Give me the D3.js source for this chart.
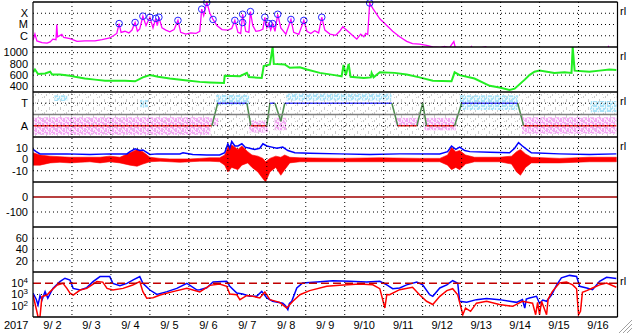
<!DOCTYPE html>
<html>
<head>
<meta charset="utf-8">
<script src="https://d3js.org/d3.v7.min.js"></script>
<style>
    body { margin: 0; background: #fff; }
    text { font-family: "Liberation Sans", Arial, sans-serif; font-size: 11px; fill: #000; }
</style>
</head>
<body>
<svg id="chart" width="633" height="334"></svg>
<script>

// ---------------- data (time = decimal day of September 2017, UT) ----------------
var dayStarts = [3, 4, 5, 6, 7, 8, 9, 10, 11, 12, 13, 14, 15, 16];
var dayLabels = ["9/ 2", "9/ 3", "9/ 4", "9/ 5", "9/ 6", "9/ 7", "9/ 8", "9/ 9", "9/10", "9/11", "9/12", "9/13", "9/14", "9/15", "9/16"];

// x-ray flux (W/m2)
var xray = [[2.00,4e-7],[2.05,1.4e-6],[2.10,3.5e-7],[2.23,2.5e-7],[2.36,2.2e-7],[2.44,2.8e-7],[2.51,5e-7],
    [2.59,4.5e-7],[2.61,1e-5],[2.63,8e-7],[2.74,1.3e-6],[2.79,7e-7],[2.95,5.6e-7],[3.13,3.2e-7],[3.33,3.5e-7],
    [3.59,3.5e-7],[3.77,4.5e-7],[3.97,6.3e-7],[4.08,1.1e-6],[4.15,1.6e-6],[4.21,1.2e-5],[4.26,2e-6],[4.36,2.5e-6],
    [4.46,1.8e-6],[4.54,3.2e-6],[4.62,1.5e-5],[4.68,2.5e-6],[4.74,4e-6],[4.82,5.5e-5],[4.90,8e-6],[5.00,4.4e-5],
    [5.08,5e-6],[5.15,3.5e-5],[5.19,8e-6],[5.23,4.4e-5],[5.31,5e-6],[5.41,3.2e-6],[5.51,2.2e-6],[5.62,3.5e-6],
    [5.72,2.3e-5],[5.79,2e-6],[5.92,1.4e-6],[6.05,1.8e-6],[6.18,1.6e-6],[6.28,2.5e-6],[6.33,2.3e-4],[6.38,6.3e-5],
    [6.46,9.3e-4],[6.54,1e-4],[6.62,2.8e-5],[6.72,8e-6],[6.85,3.5e-6],[7.00,3.2e-6],[7.10,4.5e-6],[7.18,2.3e-5],
    [7.26,2e-6],[7.33,1.6e-6],[7.38,8.1e-5],[7.46,2.5e-6],[7.54,2e-6],[7.58,1.4e-4],[7.64,8e-6],[7.72,2.5e-6],
    [7.82,2.8e-6],[7.90,4e-6],[7.95,4.4e-5],[8.00,5e-6],[8.05,1.2e-5],[8.10,3.2e-6],[8.15,1.2e-5],[8.21,2.5e-6],
    [8.28,8.1e-5],[8.36,5e-6],[8.49,1.4e-6],[8.62,2.8e-5],[8.69,2e-6],[8.82,1.3e-6],[8.95,2.3e-5],[9.03,2.5e-6],
    [9.13,1.6e-6],[9.23,2.8e-6],[9.33,1.8e-6],[9.41,4.4e-5],[9.49,3.2e-6],[9.62,1.4e-6],[9.77,1.1e-6],[9.87,2.5e-6],
    [9.95,6.3e-6],[10.08,2.5e-6],[10.21,1e-6],[10.31,5e-7],[10.41,1.4e-6],[10.49,8e-7],[10.54,1.6e-6],[10.59,1.3e-6],
    [10.64,8.2e-4],[10.72,2.7e-4],[10.90,3.2e-5],[11.08,8e-6],[11.23,2.5e-6],[11.36,1.1e-6],[11.41,8e-7],[11.59,3.2e-7],
    [11.74,2e-7],[11.92,1.8e-7],[12.10,1.4e-7],[12.26,1e-7],[12.44,9e-8],[12.56,1.1e-7],[12.69,9e-8],[12.80,3e-7],
    [12.84,8e-8],[13.21,6e-8],[13.25,1.1e-7],[13.30,6e-8],[13.62,1.05e-7],[13.66,6e-8],[16.70,5e-8],[16.77,1.1e-7],[16.82,5e-8]];

// flare peaks marked with circles
var flares = [[4.21,1.2e-5],[4.62,1.5e-5],[4.82,5.5e-5],[5.00,4.4e-5],[5.15,3.5e-5],[5.23,4.4e-5],[5.72,2.3e-5],
    [6.33,2.3e-4],[6.46,9.3e-4],[6.62,2.8e-5],[7.18,2.3e-5],[7.38,8.1e-5],[7.38,1.5e-5],[7.58,1.4e-4],[7.95,4.4e-5],
    [8.05,1.2e-5],[8.15,1.2e-5],[8.28,8.1e-5],[8.62,2.8e-5],[8.95,2.3e-5],[9.41,4.4e-5],[10.64,8.2e-4]];

// solar wind speed (km/s)
var speed = [[2.00,650],[2.05,700],[2.13,620],[2.31,630],[2.44,660],[2.49,610],[2.69,610],[2.95,590],[3.08,570],
    [3.33,540],[3.59,520],[3.85,500],[4.10,500],[4.36,500],[4.62,490],[4.82,560],[5.00,600],[5.21,570],[5.51,540],
    [5.90,510],[6.28,480],[6.54,470],[6.90,460],[6.92,590],[7.31,580],[7.49,640],[7.54,565],[7.87,550],[7.92,760],
    [8.08,790],[8.15,1100],[8.18,800],[8.46,790],[8.59,730],[8.85,740],[9.03,700],[9.36,640],[9.74,600],[9.92,580],
    [9.97,780],[10.03,600],[10.10,800],[10.15,570],[10.49,550],[10.67,560],[10.69,640],[10.74,560],[10.90,650],
    [11.28,640],[11.59,610],[11.92,560],[12.26,500],[12.74,490],[12.82,650],[12.95,600],[13.33,540],[13.72,410],
    [13.97,380],[14.23,335],[14.36,360],[14.62,520],[14.74,600],[14.87,660],[15.00,680],[15.38,640],[15.64,650],
    [15.82,640],[15.85,1100],[15.90,680],[16.28,660],[16.54,680],[16.79,700],[16.97,690]];

// IMF sector: +1 = T(oward), -1 = A(way)
var sector = [[2.00,-1],[6.59,-1],[6.74,1],[7.49,1],[7.59,-1],[8.00,-1],[8.08,1],[8.21,1],[8.36,-0.6],[8.46,1],
    [11.21,1],[11.36,-1],[11.85,-1],[12.00,1],[12.10,-1],[12.82,-1],[13.00,1],[14.44,1],[14.59,-1],[16.97,-1]];
// background point clouds [start, end, low, high]
var sectorAway = [[2.00,6.55,-1.8,-0.25],[6.55,6.75,-1.0,-0.3],[7.55,8.02,-1.6,-0.55],[8.20,8.50,-1.4,-0.3],
    [11.30,11.90,-1.0,-0.3],[12.05,12.85,-1.4,-0.3],[14.55,16.97,-1.7,-0.25]];
var sectorToward = [[2.55,2.90,1.2,1.7],[4.75,4.95,0.6,1.3],[6.70,7.55,0.84,1.75],[8.50,11.20,1.25,1.85],
    [12.95,14.45,0.4,1.7],[16.30,16.97,0.2,1.2]];
var sectorOther = [[2.00,16.97,-1.9,1.9]];

// IMF Bt (nT) and Bz range [t, min, max]
var bt = [[2.00,9],[2.08,7],[2.18,5],[2.87,5],[3.46,4.5],[3.97,5],[4.41,5],[4.49,7],[4.62,9.5],[4.74,8],[4.82,8.5],
    [5.00,4.5],[5.18,5],[5.77,5],[5.85,6],[6.10,4.5],[6.46,4],[6.79,4],[6.92,6],[7.00,14],[7.05,10],[7.10,16],
    [7.18,12],[7.26,12],[7.36,14],[7.44,11],[7.56,10],[7.69,9],[7.82,10],[7.90,14],[8.00,12],[8.13,11],[8.26,10],
    [8.41,11],[8.54,8],[8.72,6],[9.10,5.5],[9.87,5],[10.64,4.5],[11.41,5],[12.44,5],[12.64,7],[12.74,12],[12.85,9],
    [12.95,11],[13.08,8],[13.21,7],[13.72,6.5],[14.23,6],[14.36,10],[14.46,15],[14.56,12],[14.67,9],[14.79,6],
    [15.51,5],[16.28,4.5],[16.97,5]];
var bz = [[2.00,-5,6],[2.18,-5,4],[2.44,-3,3],[2.69,-2.5,2.5],[2.95,-3,2],[3.21,-2.5,2],[3.46,-2,2],[3.72,-3,2],
    [3.97,-2,3],[4.23,-3,2],[4.49,-5,6],[4.67,-6,9],[4.82,-4,7],[5.00,-2,2],[5.26,-1.5,1],[5.51,-2,0.5],
    [5.77,-2.5,0.5],[6.03,-2,0.5],[6.28,-1.5,1],[6.54,-1.5,1.5],[6.79,-2,1.5],[6.92,-5,4],[7.00,-11,11],
    [7.10,-7,13],[7.26,-9,9],[7.36,-5,12],[7.51,-3,7],[7.62,-7,4],[7.77,-11,3],[7.90,-17,1],[7.97,-20,-2],
    [8.08,-11,1],[8.23,-7,3],[8.36,-14,2],[8.46,-9,4],[8.59,-3,2],[8.85,-2,1.5],[9.87,-2,1],[10.90,-2,1.5],
    [11.92,-2,1],[12.44,-2,1],[12.64,-5,4],[12.74,-9,11],[12.85,-7,7],[12.95,-9,8],[13.10,-4,4],[13.33,-2,2],
    [13.97,-2,2],[14.28,-4,3],[14.41,-11,7],[14.51,-14,9],[14.64,-7,5],[14.79,-3,2],[15.51,-3,1],[16.28,-2,2],
    [16.97,-2,2]];

// Dst (nT): no data, zero line only
var dstLevel = 0;

// >2 MeV electron flux, two satellites
var elecBlue = [[2.00,1.3e3],[2.08,4e2],[2.13,1.2e2],[2.18,8e2],[2.23,3.2e2],[2.31,1.8e3],[2.38,4.6e2],[2.51,3.5e3],
    [2.69,1.4e4],[2.82,2.8e4],[2.95,1.9e4],[3.03,3.5e3],[3.21,2.5e3],[3.38,4.1e3],[3.54,1.4e4],[3.72,3.9e4],
    [3.97,3.9e4],[4.05,9.8e3],[4.23,6e3],[4.41,9.8e3],[4.56,1.9e4],[4.74,3.9e4],[4.82,9.8e3],[5.00,2.5e3],
    [5.18,1e3],[5.44,1.8e3],[5.69,3.5e3],[5.95,9.8e3],[6.21,2.5e3],[6.28,2.7e3],[6.46,4e3],[6.62,1.3e4],
    [6.97,1.5e4],[7.05,5.4e3],[7.23,1.35e3],[7.38,1.1e3],[7.56,6.9e2],[7.74,6.9e2],[7.87,1.9e3],[8.00,4.9e2],
    [8.15,2.5e2],[8.41,1.7e2],[8.48,1e2],[8.54,45],[8.58,1.6e2],[8.64,2.5e2],[8.77,3.8e3],[8.92,1.05e4],
    [9.28,1.3e4],[9.69,1.7e4],[10.13,1.5e4],[10.56,1.3e4],[10.90,1.5e4],[11.08,7.2e3],[11.23,3.3e3],[11.41,3.8e3],
    [11.59,7.2e3],[11.85,1.3e4],[12.00,7.2e3],[12.18,9.5e2],[12.26,6.9e2],[12.44,3.8e3],[12.62,7.2e3],[12.77,1.7e4],
    [12.90,1e4],[12.95,2.5e2],[13.13,2.1e2],[13.38,3.5e2],[13.64,4.3e2],[13.97,3.5e2],[14.23,2.5e2],[14.41,2e2],
    [14.56,3.5e2],[14.62,63],[14.66,4e2],[14.74,4.9e2],[14.92,6.9e2],[15.00,1.6e2],[15.08,3.2e2],[15.18,2.5e2],
    [15.31,9.5e2],[15.44,7.2e3],[15.56,3e4],[15.77,5e4],[15.95,4e4],[16.03,5.4e3],[16.21,3.8e3],[16.36,2.7e3],
    [16.54,1.5e4],[16.72,3.4e4],[16.97,2.6e4]];
var elecRed = [[2.00,9e2],[2.08,60],[2.13,10],[2.18,11],[2.23,6.5e2],[2.36,9e2],[2.44,1.8e3],[2.62,6.9e3],
    [2.77,9.8e3],[2.87,3.5e3],[2.95,1.3e3],[3.03,9e2],[3.21,2.5e3],[3.38,3.5e3],[3.64,1.4e4],[3.79,1.26e4],
    [3.90,3.5e3],[4.05,2.5e3],[4.31,3.5e3],[4.56,6.9e3],[4.74,1.4e4],[4.82,1.8e3],[4.92,4.6e2],[5.08,5.2e2],
    [5.26,9e2],[5.59,1.8e3],[5.95,3.5e3],[6.28,1.7e3],[6.54,6.5e3],[6.79,8.5e3],[6.97,5.4e3],[7.05,1.1e3],
    [7.23,9.5e2],[7.31,3.5e2],[7.49,8.3e2],[7.64,6.9e2],[7.82,4.9e2],[7.95,1.7e3],[8.08,3.5e2],[8.33,2e2],
    [8.51,63],[8.67,2.5e2],[8.85,9.5e2],[9.10,2.2e3],[9.54,5.4e3],[9.87,6.5e3],[10.38,8.5e3],[10.72,7.2e3],
    [10.90,3.3e3],[11.03,63],[11.08,1e3],[11.15,9.5e2],[11.41,2.7e3],[11.74,4.4e3],[11.92,9.5e2],[12.10,2.5e2],
    [12.26,1.3e2],[12.44,6.9e2],[12.62,2.2e3],[12.77,3.3e3],[12.90,9.5e2],[13.03,16],[13.10,63],[13.23,32],
    [13.38,1.7e2],[13.64,2.5e2],[13.97,1.3e2],[14.31,89],[14.56,2.5e2],[14.82,1.7e2],[14.90,16],[14.95,2e2],
    [15.00,16],[15.05,2.5e2],[15.18,16],[15.22,4e2],[15.33,1.9e3],[15.51,1.05e4],[15.69,1.3e4],[15.85,7.2e3],
    [15.95,3.2e3],[16.00,16],[16.05,32],[16.10,1.6e3],[16.21,2.2e3],[16.36,3.8e3],[16.54,7.2e3],[16.72,1.05e4],
    [16.97,4.4e3]];

// ---------------- layout ----------------
var svg = d3.select("#chart");
var left = 33, right = 617.5;
var panelTops = [2, 47, 92, 137, 182, 227, 272];
var panelH = 45;
var bottom = panelTops[6] + panelH;

var x = d3.scaleLinear().domain([2, 17]).range([left, right]);

var yX = d3.scaleLog().domain([1e-7, 1e-3]).range([panelTops[0] + panelH, panelTops[0]]);
var yV = d3.scaleLinear().domain([300, 1100]).range([panelTops[1] + panelH, panelTops[1]]);
var yS = d3.scaleLinear().domain([-2, 2]).range([panelTops[2] + panelH, panelTops[2]]);
var yB = d3.scaleLinear().domain([-20, 20]).range([panelTops[3] + panelH, panelTops[3]]);
var yD = d3.scaleLinear().domain([-200, 100]).range([panelTops[4] + panelH, panelTops[4]]);
var yK = d3.scaleLinear().domain([0, 80]).range([panelTops[5] + panelH, panelTops[5]]);
var yE = d3.scaleLog().domain([10, 1e5]).range([panelTops[6] + panelH, panelTops[6]]);

// clip paths, one per panel
var defs = svg.append("defs");
panelTops.forEach(function (top, i) {
    defs.append("clipPath").attr("id", "clip" + i)
        .append("rect").attr("x", left).attr("y", top).attr("width", right - left).attr("height", panelH);
});

// speckle patterns for the point clouds
function speckle(id, color, w, h, dots) {
    var p = defs.append("pattern").attr("id", id).attr("patternUnits", "userSpaceOnUse")
        .attr("width", w).attr("height", h);
    dots.forEach(function (d) {
        p.append("rect").attr("x", d[0]).attr("y", d[1]).attr("width", d[2]).attr("height", d[3]).attr("fill", color);
    });
}
speckle("pinkDots", "#f4a8f4", 7, 5, [[0,0,2,2],[3,0,1,3],[4,2,2,2],[0,3,2,2],[2,2,1,1],[6,0,1,1],[5,4,1,1]]);
speckle("cyanDots", "#a8e2f8", 7, 5, [[0,0,2,2],[3,1,1,3],[5,0,2,2],[1,3,2,2],[5,3,1,2]]);
speckle("grayDots", "#cccccc", 11, 8, [[0,0,1,2],[5,3,1,3],[9,1,1,1],[2,6,1,2],[8,6,1,1]]);

function hline(y, dash, color, width) {
    svg.append("line").attr("x1", left).attr("x2", right).attr("y1", y).attr("y2", y)
        .attr("stroke", color || "#000").attr("stroke-width", width || 1)
        .attr("stroke-dasharray", dash || null);
}
function label(txt, y) {
    svg.append("text").attr("x", 28).attr("y", y).attr("dy", "0.35em")
        .attr("text-anchor", "end").text(txt);
}
function panel(i) {
    return svg.append("g").attr("clip-path", "url(#clip" + i + ")");
}

// ---------- panel 0: x-ray ----------
hline(yX(1e-4), "1,3"); hline(yX(1e-5), "1,3"); hline(yX(1e-6), "1,3");
label("X", yX(1e-4)); label("M", yX(1e-5)); label("C", yX(1e-6));
var p0 = panel(0);
p0.append("path").datum(xray)
    .attr("d", d3.line().x(function (d) { return x(d[0]); }).y(function (d) { return yX(d[1]); }))
    .attr("fill", "none").attr("stroke", "#ff00ff").attr("stroke-width", 1.3);
svg.append("g").selectAll("circle").data(flares).enter().append("circle")
    .attr("cx", function (d) { return x(d[0]); }).attr("cy", function (d) { return yX(d[1]); })
    .attr("r", 3.3).attr("fill", "none").attr("stroke", "#2222ff").attr("stroke-width", 1);

// ---------- panel 1: solar wind speed ----------
[1000, 800, 600, 400].forEach(function (v) { hline(yV(v), "1,3"); label(v, yV(v)); });
var p1 = panel(1);
p1.append("path").datum(speed)
    .attr("d", d3.line().x(function (d) { return x(d[0]); }).y(function (d) { return yV(d[1]); }))
    .attr("fill", "none").attr("stroke", "#22ee22").attr("stroke-width", 2);

// ---------- panel 2: sector ----------
var p2 = panel(2);
function cloud(list, base, fill) {
    [base, fill].forEach(function (f, k) {
        p2.selectAll(null).data(list).enter().append("rect")
            .attr("x", function (d) { return x(d[0]); })
            .attr("width", function (d) { return x(d[1]) - x(d[0]); })
            .attr("y", function (d) { return yS(d[3]); })
            .attr("height", function (d) { return yS(d[2]) - yS(d[3]); })
            .attr("fill", f).attr("fill-opacity", k === 0 ? 0.35 : 1);
    });
}
cloud(sectorOther, "none", "url(#grayDots)");
cloud(sectorAway, "#f8c4f8", "url(#pinkDots)");
cloud(sectorToward, "#c4ecfa", "url(#cyanDots)");
hline(yS(1), "1,3"); hline(yS(-1), "1,3");
hline(yS(0), null, "#808080", 1.5);
label("T", yS(1)); label("A", yS(-1));
for (var i = 1; i < sector.length; i++) {
    var a = sector[i - 1], b = sector[i];
    var col = (a[1] === -1 && b[1] === -1) ? "#ee2222" : (a[1] === 1 && b[1] === 1) ? "#4444ff" : "#4c8c4c";
    p2.append("line").attr("x1", x(a[0])).attr("y1", yS(a[1])).attr("x2", x(b[0])).attr("y2", yS(b[1]))
        .attr("stroke", col).attr("stroke-width", 1.5);
}

// ---------- panel 3: IMF ----------
[10, 0, -10].forEach(function (v) { hline(yB(v), "1,3"); label(v, yB(v)); });
var p3 = panel(3);
p3.append("path").datum(bz)
    .attr("d", d3.area().x(function (d) { return x(d[0]); })
        .y0(function (d) { return yB(d[1]); }).y1(function (d) { return yB(d[2]); }))
    .attr("fill", "#ff0000").attr("stroke", "#ff0000").attr("stroke-width", 0.6);
p3.append("path").datum(bt)
    .attr("d", d3.line().x(function (d) { return x(d[0]); }).y(function (d) { return yB(d[1]); }))
    .attr("fill", "none").attr("stroke", "#0000ff").attr("stroke-width", 1.5);

// ---------- panel 4: Dst ----------
hline(yD(-100), "1,3");
label("0", yD(0)); label("-100", yD(-100));
hline(yD(dstLevel), null, "#a00000", 1.5);

// ---------- panel 5: empty ----------
[60, 40, 20].forEach(function (v) { hline(yK(v), "1,3"); label(v, yK(v)); });

// ---------- panel 6: electrons ----------
hline(yE(1e3), "1,3"); hline(yE(1e2), "1,3");
[4, 3, 2].forEach(function (n) {
    var t = svg.append("text").attr("x", 28).attr("y", yE(Math.pow(10, n))).attr("dy", "0.35em")
        .attr("text-anchor", "end");
    t.append("tspan").text("10");
    t.append("tspan").attr("dy", "-4").attr("font-size", "8px").text(n);
});
var p6 = panel(6);
p6.append("path").datum(elecBlue)
    .attr("d", d3.line().x(function (d) { return x(d[0]); }).y(function (d) { return yE(d[1]); }))
    .attr("fill", "none").attr("stroke", "#0000ff").attr("stroke-width", 1.5);
p6.append("path").datum(elecRed)
    .attr("d", d3.line().x(function (d) { return x(d[0]); }).y(function (d) { return yE(d[1]); }))
    .attr("fill", "none").attr("stroke", "#ff0000").attr("stroke-width", 1.5);
hline(yE(1e4), "8,4", "#c00000", 1.5);

// ---------- grid, frame, time axis ----------
svg.append("g").selectAll("line").data(dayStarts).enter().append("line")
    .attr("x1", function (d) { return x(d); }).attr("x2", function (d) { return x(d); })
    .attr("y1", panelTops[0]).attr("y2", bottom)
    .attr("stroke", "#000").attr("stroke-dasharray", "1,3");

panelTops.concat([bottom]).forEach(function (y) { hline(y, null, "#000", 1.5); });
svg.append("line").attr("x1", left).attr("x2", left).attr("y1", panelTops[0]).attr("y2", bottom)
    .attr("stroke", "#000").attr("stroke-width", 1.2);
svg.append("line").attr("x1", right).attr("x2", right).attr("y1", panelTops[0]).attr("y2", bottom)
    .attr("stroke", "#000").attr("stroke-width", 1.2);

// "rl" marks on the right of panels with real-time data
[0, 1, 2, 3, 6].forEach(function (i) {
    svg.append("text").attr("x", 620).attr("y", panelTops[i] + 13).attr("font-size", "10px").text("rl");
});

svg.append("g").selectAll("text").data(dayLabels).enter().append("text")
    .attr("x", function (d, i) { return x(2 + i + 0.5); }).attr("y", 329)
    .attr("text-anchor", "middle").style("white-space", "pre").text(function (d) { return d; });
svg.append("text").attr("x", 4).attr("y", 329).text("2017");

// window resize grip
[0, 4, 8].forEach(function (o) {
    svg.append("line").attr("x1", 619 + o).attr("y1", 333).attr("x2", 632).attr("y2", 320 + o)
        .attr("stroke", "#a0a0a0").attr("stroke-width", 1);
});

</script>
</body>
</html>
